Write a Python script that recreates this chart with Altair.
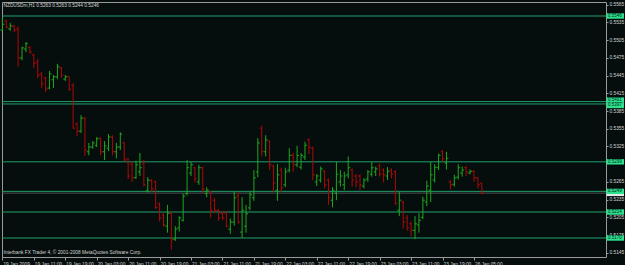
import json
import altair as alt
import pandas as pd

# ---- OHLC values (NZDUSDm), bar 0 = 19 Jan 2009 03:00 ----
high = [0.5543, 0.5539, 0.5534, 0.5531, 0.5528, 0.5494, 0.5502, 0.5495, 0.5482, 0.5473,
        0.5451, 0.5443, 0.5453, 0.5446, 0.5465, 0.5460, 0.5446, 0.5443, 0.5432, 0.5366,
        0.5378, 0.5375, 0.5331, 0.5334, 0.5341, 0.5340, 0.5334, 0.5346, 0.5344, 0.5331,
        0.5349, 0.5333, 0.5305, 0.5299, 0.5301, 0.5314, 0.5302, 0.5273, 0.5270, 0.5267,
        0.5230, 0.5212, 0.5226, 0.5214, 0.5190, 0.5207, 0.5245, 0.5302, 0.5299, 0.5290,
        0.5294, 0.5291, 0.5256, 0.5250, 0.5238, 0.5219, 0.5216, 0.5216, 0.5203, 0.5248,
        0.5247, 0.5239, 0.5226, 0.5248, 0.5285, 0.5339, 0.5360, 0.5344, 0.5335, 0.5294,
        0.5295, 0.5289, 0.5289, 0.5322, 0.5314, 0.5326, 0.5314, 0.5333, 0.5339, 0.5325,
        0.5278, 0.5291, 0.5285, 0.5271, 0.5256, 0.5299, 0.5285, 0.5282, 0.5308, 0.5288,
        0.5278, 0.5278, 0.5271, 0.5285, 0.5299, 0.5291, 0.5296, 0.5288, 0.5290, 0.5288,
        0.5285, 0.5248, 0.5233, 0.5209, 0.5198, 0.5207, 0.5212, 0.5240, 0.5267, 0.5299,
        0.5295, 0.5313, 0.5319, 0.5316, 0.5268, 0.5277, 0.5295, 0.5291, 0.5292, 0.5286,
        0.5285, 0.5273, 0.5263]
low = [0.5521, 0.5525, 0.5521, 0.5519, 0.5460, 0.5471, 0.5485, 0.5482, 0.5458, 0.5441,
       0.5424, 0.5417, 0.5422, 0.5424, 0.5439, 0.5441, 0.5436, 0.5419, 0.5355, 0.5343,
       0.5348, 0.5309, 0.5310, 0.5321, 0.5324, 0.5310, 0.5302, 0.5317, 0.5310, 0.5305,
       0.5319, 0.5299, 0.5270, 0.5265, 0.5270, 0.5275, 0.5257, 0.5247, 0.5248, 0.5219,
       0.5198, 0.5189, 0.5179, 0.5150, 0.5165, 0.5181, 0.5198, 0.5242, 0.5275, 0.5264,
       0.5260, 0.5246, 0.5239, 0.5204, 0.5212, 0.5199, 0.5200, 0.5188, 0.5177, 0.5191,
       0.5194, 0.5170, 0.5179, 0.5217, 0.5233, 0.5273, 0.5308, 0.5308, 0.5285, 0.5248,
       0.5233, 0.5248, 0.5256, 0.5281, 0.5282, 0.5290, 0.5286, 0.5302, 0.5312, 0.5268,
       0.5258, 0.5264, 0.5254, 0.5226, 0.5222, 0.5234, 0.5257, 0.5251, 0.5271, 0.5257,
       0.5256, 0.5251, 0.5254, 0.5265, 0.5274, 0.5275, 0.5274, 0.5264, 0.5268, 0.5271,
       0.5226, 0.5207, 0.5186, 0.5182, 0.5173, 0.5168, 0.5179, 0.5202, 0.5224, 0.5231,
       0.5264, 0.5285, 0.5299, 0.5286, 0.5252, 0.5257, 0.5269, 0.5274, 0.5275, 0.5278,
       0.5265, 0.5254, 0.5244]
open_ = [0.5522, 0.5538, 0.5524, 0.5529, 0.5524, 0.5475, 0.5490, 0.5493, 0.5480, 0.5468,
         0.5448, 0.5441, 0.5424, 0.5438, 0.5443, 0.5458, 0.5439, 0.5443, 0.5429, 0.5363,
         0.5351, 0.5373, 0.5316, 0.5324, 0.5327, 0.5339, 0.5316, 0.5322, 0.5341, 0.5316,
         0.5324, 0.5331, 0.5304, 0.5295, 0.5272, 0.5282, 0.5297, 0.5250, 0.5267, 0.5265,
         0.5228, 0.5209, 0.5190, 0.5212, 0.5168, 0.5187, 0.5200, 0.5245, 0.5280, 0.5289,
         0.5265, 0.5289, 0.5245, 0.5248, 0.5234, 0.5217, 0.5212, 0.5212, 0.5185, 0.5197,
         0.5241, 0.5180, 0.5190, 0.5221, 0.5238, 0.5282, 0.5356, 0.5316, 0.5334, 0.5292,
         0.5251, 0.5285, 0.5260, 0.5285, 0.5310, 0.5294, 0.5290, 0.5307, 0.5336, 0.5322,
         0.5265, 0.5268, 0.5283, 0.5268, 0.5234, 0.5246, 0.5265, 0.5260, 0.5277, 0.5285,
         0.5275, 0.5275, 0.5258, 0.5270, 0.5278, 0.5282, 0.5292, 0.5285, 0.5275, 0.5285,
         0.5282, 0.5217, 0.5231, 0.5204, 0.5194, 0.5183, 0.5192, 0.5205, 0.5231, 0.5251,
         0.5268, 0.5289, 0.5316, 0.5297, 0.5265, 0.5261, 0.5273, 0.5280, 0.5289, 0.5280,
         0.5283, 0.5272, 0.5263]
close = [0.5532, 0.5527, 0.5529, 0.5522, 0.5475, 0.5492, 0.5499, 0.5485, 0.5466, 0.5446,
         0.5431, 0.5422, 0.5448, 0.5443, 0.5460, 0.5446, 0.5443, 0.5422, 0.5356, 0.5351,
         0.5373, 0.5319, 0.5324, 0.5331, 0.5338, 0.5316, 0.5326, 0.5341, 0.5316, 0.5324,
         0.5346, 0.5302, 0.5275, 0.5272, 0.5294, 0.5289, 0.5260, 0.5268, 0.5253, 0.5222,
         0.5204, 0.5192, 0.5212, 0.5167, 0.5185, 0.5204, 0.5241, 0.5289, 0.5294, 0.5270,
         0.5289, 0.5253, 0.5251, 0.5217, 0.5217, 0.5204, 0.5204, 0.5190, 0.5197, 0.5238,
         0.5197, 0.5217, 0.5211, 0.5243, 0.5272, 0.5331, 0.5317, 0.5336, 0.5294, 0.5263,
         0.5277, 0.5255, 0.5282, 0.5310, 0.5294, 0.5310, 0.5310, 0.5327, 0.5324, 0.5277,
         0.5275, 0.5287, 0.5260, 0.5238, 0.5251, 0.5278, 0.5275, 0.5275, 0.5289, 0.5268,
         0.5265, 0.5260, 0.5268, 0.5282, 0.5289, 0.5287, 0.5278, 0.5277, 0.5283, 0.5278,
         0.5229, 0.5234, 0.5197, 0.5187, 0.5183, 0.5194, 0.5200, 0.5234, 0.5258, 0.5277,
         0.5290, 0.5310, 0.5304, 0.5305, 0.5260, 0.5272, 0.5289, 0.5285, 0.5282, 0.5283,
         0.5272, 0.5260, 0.5246]

time_labels = ["19 Jan 2009", "19 Jan 11:00", "19 Jan 19:00", "20 Jan 03:00",
               "20 Jan 11:00", "20 Jan 19:00", "21 Jan 03:00", "21 Jan 11:00",
               "21 Jan 19:00", "22 Jan 03:00", "22 Jan 11:00", "22 Jan 19:00",
               "23 Jan 03:00", "23 Jan 11:00", "23 Jan 19:00", "26 Jan 05:00"]
label_every = 8
# 0.5295 is hidden under the 0.5299 level label in the reference
price_ticks = [0.5565, 0.5535, 0.5505, 0.5475, 0.5445, 0.5415, 0.5385, 0.5355,
               0.5325, 0.5265, 0.5235, 0.5205, 0.5175, 0.5145]
level_prices = [0.5546, 0.5401, 0.5397, 0.5299, 0.5249, 0.5214, 0.5170]
# small vertical nudge (px) of the price-label boxes where two levels sit too close
level_label_shift = [0, -1.5, 1.5, 0, 0, 0, 0]
bid_price = 0.5246
title_text = "NZDUSDm,H1  0.5263 0.5263 0.5244 0.5246"
copyright_text = "Interbank FX Trader 4, \u00a9 2001-2008 MetaQuotes Software Corp."

# ---- style ----
BG = "#050e0c"
UP = "#1fa81f"
DOWN = "#b00808"
LEVEL = "#22a06c"
LABEL_BG = "#2de08c"
TXT = "#d4d4d4"
FRAME = "#9a9a9a"
FONT = "Liberation Sans"
FS = 4.8
W, H = 604, 255

n = len(high)
df = pd.DataFrame({"i": list(range(n)), "high": high, "low": low,
                   "open": open_, "close": close})
df["dir"] = ["up" if c >= o else "down" for o, c in zip(open_, close)]

xs = alt.Scale(domain=[-0.1, 153.6], nice=False, zero=False)
ys = alt.Scale(domain=[0.51378, 0.55697], nice=False, zero=False)
col = alt.Color("dir:N", scale=alt.Scale(domain=["up", "down"], range=[UP, DOWN]), legend=None)

label_expr = f"{json.dumps(time_labels)}[round(datum.value / {label_every})]"
x_axis = alt.Axis(values=[k * label_every for k in range(len(time_labels))],
                  labelExpr=label_expr, title=None, grid=False, domain=False,
                  labelAlign="left", labelOffset=0.5, labelBaseline="top",
                  labelPadding=1, labelFontSize=FS, labelFont=FONT, labelColor=TXT,
                  tickColor=FRAME, tickSize=3, labelFlush=False, labelOverlap=False)
y_axis = alt.Axis(orient="right", values=price_ticks, format=".4f", title=None,
                  grid=False, domain=False, labelFontSize=FS, labelFont=FONT,
                  labelColor=TXT, tickColor=FRAME, tickSize=2, labelPadding=1,
                  labelBaseline="middle", labelOverlap=False, labelFlush=False)

base = alt.Chart(df)
hl = base.mark_rule(strokeWidth=1).encode(
    x=alt.X("i:Q", scale=xs, axis=x_axis),
    y=alt.Y("low:Q", scale=ys, axis=y_axis),
    y2="high:Q", color=col)
op = base.transform_calculate(xo="datum.i - 0.5").mark_rule(strokeWidth=1).encode(
    x=alt.X("xo:Q", scale=xs, axis=None), x2="i:Q",
    y=alt.Y("open:Q", scale=ys, axis=None), color=col)
cl = base.transform_calculate(xc="datum.i + 0.5").mark_rule(strokeWidth=1).encode(
    x=alt.X("i:Q", scale=xs, axis=None), x2="xc:Q",
    y=alt.Y("close:Q", scale=ys, axis=None), color=col)

lv = pd.DataFrame({"price": level_prices, "shift": level_label_shift,
                   "label": [f"{p:.4f}" for p in level_prices]})
lines = alt.Chart(lv).mark_rule(color=LEVEL, strokeWidth=1).encode(
    y=alt.Y("price:Q", scale=ys, axis=None))

bid = pd.DataFrame({"price": [bid_price]})
bid_line = alt.Chart(bid).mark_rule(color="#4a5252", strokeWidth=1).encode(
    y=alt.Y("price:Q", scale=ys, axis=None))
bid_box = alt.Chart(bid).transform_calculate(
    top="datum.price + 0.00050", bot="datum.price - 0.00050").mark_rect(color="#e8e8e8").encode(
    x=alt.value(W + 0.5), x2=alt.value(W + 18), y=alt.Y("top:Q", scale=ys, axis=None), y2="bot:Q")

# label boxes: price +/- half box height (in price units), nudged by the shift in px
px_per_price = H / (0.55697 - 0.51378)
boxes = alt.Chart(lv).transform_calculate(
    c=f"datum.price - datum.shift / {px_per_price}",
).transform_calculate(
    top="datum.c + 0.00046", bot="datum.c - 0.00046"
).mark_rect(color=LABEL_BG).encode(
    x=alt.value(W + 0.5), x2=alt.value(W + 18), y=alt.Y("top:Q", scale=ys, axis=None), y2="bot:Q")
box_txt = alt.Chart(lv).transform_calculate(
    c=f"datum.price - datum.shift / {px_per_price}"
).mark_text(align="left", baseline="middle", fontSize=4.5, font=FONT,
            color="#04281a").encode(
    x=alt.value(W + 2), y=alt.Y("c:Q", scale=ys, axis=None), text="label:N")

ann = pd.DataFrame({"t": [title_text, copyright_text], "px": [1.5, 1.5], "py": [3.5, 251]})
ann_txt = alt.Chart(ann).mark_text(align="left", baseline="middle", fontSize=FS, font=FONT,
                                   color=TXT).encode(
    x=alt.X("px:Q", scale=alt.Scale(domain=[0, W], nice=False, zero=False), axis=None),
    y=alt.Y("py:Q", scale=alt.Scale(domain=[H, 0], nice=False, zero=False), axis=None),
    text="t:N")

chart = alt.layer(lines, bid_line, hl, op, cl, bid_box, boxes, box_txt, ann_txt).resolve_scale(
    x="independent", y="independent"
).properties(
    width=W, height=H, background=BG,
    padding={"left": 2, "top": 2, "right": 19, "bottom": 8},
    autosize=alt.AutoSizeParams(type="none"),
).configure_view(stroke=FRAME, strokeWidth=1, fill=BG)

chart.save("out.html", embed_options={"renderer": "svg", "actions": False})
